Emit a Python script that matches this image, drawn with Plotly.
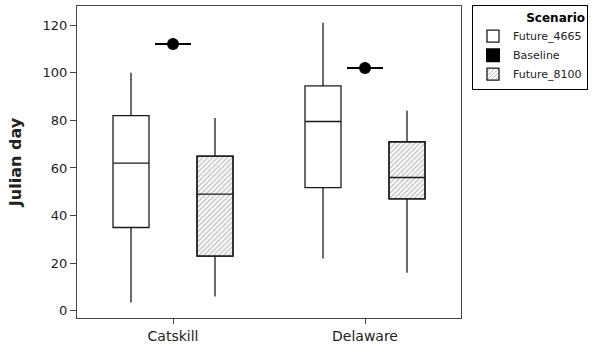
import plotly.graph_objects as go

categories = ["Catskill", "Delaware"]

# Future_4665 box statistics
f4665_low = [3.5, 22]
f4665_q1 = [35, 51.7]
f4665_med = [62, 79.5]
f4665_q3 = [82, 94.5]
f4665_high = [100, 121]

# Baseline single values
baseline = [112, 102]

# Future_8100 box statistics
f8100_low = [6, 16]
f8100_q1 = [23, 47]
f8100_med = [49, 56]
f8100_q3 = [65, 71]
f8100_high = [81, 84]

y_ticks = [0, 20, 40, 60, 80, 100, 120]

BOXGAP = 0.34375
BOXGROUPGAP = 0.143
N = 3
gf = 1 - BOXGAP
half_w = 0.5 * gf * (1 - BOXGROUPGAP) / N
center_off = 2 * 0.5 * (-0.5 + (2 + 0.5) / N) * gf

LINE = "#1a1a1a"
FONT = "DejaVu Sans"

fig = go.Figure()

fig.add_trace(go.Box(
    name="Future_4665", x=categories,
    q1=f4665_q1, median=f4665_med, q3=f4665_q3,
    lowerfence=f4665_low, upperfence=f4665_high,
    fillcolor="white", line=dict(color=LINE, width=1.3),
    whiskerwidth=0, boxpoints=False, legendrank=1,
    offsetgroup="g1", alignmentgroup="boxes",
))

fig.add_trace(go.Box(
    name="Baseline", x=categories, y=baseline,
    fillcolor="black", line=dict(color="black", width=2),
    whiskerwidth=0, boxpoints="all", jitter=0, pointpos=0,
    marker=dict(color="black", size=12), legendrank=2,
    offsetgroup="g2", alignmentgroup="boxes",
))

fig.add_trace(go.Box(
    name="Future_8100", x=categories,
    q1=f8100_q1, median=f8100_med, q3=f8100_q3,
    lowerfence=f8100_low, upperfence=f8100_high,
    fillcolor="rgba(0,0,0,0)", line=dict(color=LINE, width=1.3),
    whiskerwidth=0, boxpoints=False, showlegend=False,
    offsetgroup="g3", alignmentgroup="boxes",
))

fig.add_trace(go.Bar(
    name="Future_8100", x=categories,
    base=f8100_q1, y=[b - a for a, b in zip(f8100_q1, f8100_q3)],
    width=2 * half_w, offset=center_off - half_w,
    alignmentgroup="bars",
    marker=dict(color="white",
                line=dict(color=LINE, width=1.3),
                pattern=dict(shape="/", fgcolor="#6e6e6e", bgcolor="white",
                             size=3.5, solidity=0.35)),
    legendrank=3, hoverinfo="skip",
))

fig.update_layout(
    width=592, height=349,
    margin=dict(l=77, r=131, t=6, b=31, autoexpand=False),
    paper_bgcolor="white", plot_bgcolor="white",
    boxmode="group", boxgap=BOXGAP, boxgroupgap=BOXGROUPGAP,
    barmode="overlay",
    font=dict(family=FONT, size=13, color="#222"),
    legend=dict(
        title=dict(text="<b>Scenario</b>", font=dict(size=12, color="black"),
                   side="top right"),
        x=(472 - 77) / 384, y=1.003, xanchor="left", yanchor="top",
        bordercolor="black", borderwidth=1, bgcolor="white",
        font=dict(size=11, color="#222"), traceorder="normal",
        itemwidth=30, tracegroupgap=0,
    ),
    showlegend=True,
)

fig.update_xaxes(
    type="category", range=[-0.5, 1.5], automargin=False,
    showline=True, linecolor="#444", linewidth=1, mirror=True,
    ticks="outside", ticklen=5, tickcolor="#444",
    showgrid=False, zeroline=False,
    tickfont=dict(size=14, color="#222"),
)
fig.update_yaxes(
    range=[-3, 128], tickvals=y_ticks, automargin=False,
    showline=True, linecolor="#444", linewidth=1, mirror=True,
    ticks="outside", ticklen=6, tickcolor="#444",
    showgrid=False, zeroline=False,
    title=dict(text="<b>Julian day</b>", font=dict(size=16, color="#222"), standoff=16),
    tickfont=dict(size=13, color="#222"),
)

fig.write_html("out.html", config={"displayModeBar": False},
               post_script="document.body.style.margin='0';")
